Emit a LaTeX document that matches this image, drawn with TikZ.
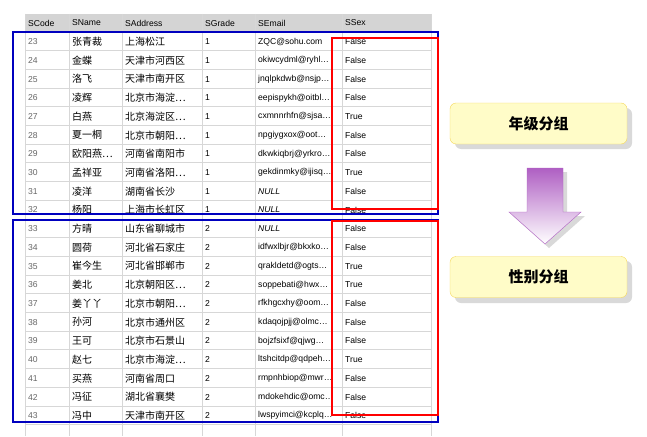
\documentclass[tikz,border=0pt]{standalone}
\usepackage{fontspec}
\setmainfont{Liberation Sans}
\newfontfamily\cjk{Noto Sans CJK SC}
\usetikzlibrary{positioning}
\definecolor{gridgray}{RGB}{215,215,215}
\definecolor{headgray}{RGB}{212,212,212}
\definecolor{boxyellow}{RGB}{255,252,200}
\definecolor{boxedge}{RGB}{245,215,90}
\definecolor{arrowpurple}{RGB}{175,95,195}
\tikzset{
  cell/.style={anchor=west,inner sep=0pt,font=\fontsize{8.6}{9}\selectfont},
  code/.style={cell,text=black!60},
  cname/.style={cell,font=\fontsize{10}{11}\selectfont\cjk},
  grpbox/.style={draw=boxedge,fill=boxyellow,rounded corners=6pt,minimum width=177pt,minimum height=41pt,font=\fontsize{15}{16}\selectfont\cjk\bfseries}
}
\begin{document}
\begin{tikzpicture}[x=1pt,y=-1pt]
\useasboundingbox (0,0) rectangle (647,436);
% header
\fill[headgray] (25,14) rectangle (431,32);
\foreach \x in {25,69,122,202,255,342,431}
  \draw[gridgray,line width=0.8pt] (\x,14) -- (\x,436);
\foreach \i in {0,...,21}
  \draw[gridgray,line width=1pt] (25,32+18.7*\i) -- (431,32+18.7*\i);
\foreach \x/\t in {28/SCode,72/SName,125/SAddress,205/SGrade,258/SEmail,345/SSex}
  \node[cell] (h\t) at (\x,23) {\t};
% rows
\foreach \n/\nm/\ad/\g/\em/\s [count=\k from 0] in {
  23/张青裁/上海松江/1/ZQC@sohu.com/False,
  24/金蝶/天津市河西区/1/okiwcydml@ryhl…/False,
  25/洛飞/天津市南开区/1/jnqlpkdwb@nsjp…/False,
  26/凌辉/北京市海淀…/1/eepispykh@oitbl…/False,
  27/白燕/北京海淀区…/1/cxmnnrhfn@sjsa…/True,
  28/夏一桐/北京市朝阳…/1/npgiygxox@oot…/False,
  29/欧阳燕…/河南省南阳市/1/dkwkiqbrj@yrkro…/False,
  30/孟祥亚/河南省洛阳…/1/gekdinmky@ijisq…/True,
  31/凌洋/湖南省长沙/1/\textit{NULL}/False,
  32/杨阳/上海市长虹区/1/\textit{NULL}/False,
  33/方晴/山东省聊城市/2/\textit{NULL}/False,
  34/圆荷/河北省石家庄/2/idfwxlbjr@bkxko…/False,
  35/崔今生/河北省邯郸市/2/qrakldetd@ogts…/True,
  36/姜北/北京朝阳区…/2/soppebati@hwx…/True,
  37/姜丫丫/北京市朝阳…/2/rfkhgcxhy@oom…/False,
  38/孙河/北京市通州区/2/kdaqojpjj@olmc…/False,
  39/王可/北京市石景山/2/bojzfsixf@qjwg…/False,
  40/赵七/北京市海淀…/2/ltshcitdp@qdpeh…/True,
  41/买燕/河南省周口/2/rmpnhbiop@mwr…/False,
  42/冯征/湖北省襄樊/2/mdokehdic@omc…/False,
  43/冯中/天津市南开区/2/lwspyimci@kcplq…/False}
{
  \node[code] (c\n) at (28,41.7+18.7*\k) {\n};
  \node[cname] (n\n) at (72,41.7+18.7*\k) {\nm};
  \node[cname] (a\n) at (125,41.7+18.7*\k) {\ad};
  \node[cell] (g\n) at (205,41.7+18.7*\k) {\g};
  \node[cell] (e\n) at (258,41.7+18.7*\k) {\em};
  \node[cell] (s\n) at (345,41.7+18.7*\k) {\s};
}
% group frames
\draw[blue!75!black,line width=1.3pt] (13,32) rectangle (438,214);
\draw[blue!75!black,line width=1.3pt] (13,220) rectangle (438,422);
\draw[red,line width=1.3pt] (332,38) rectangle (438,209);
\draw[red,line width=1.3pt] (332,221) rectangle (438,415);
% right side
\fill[black!15,rounded corners=6pt] (455,108) rectangle (632,149);
\fill[black!15,rounded corners=6pt] (455,261) rectangle (632,303);
\node[grpbox] (grade) at (538.5,123.5) {年级分组};
\node[grpbox] (sex) at (538.5,277) {性别分组};
\fill[black!15] (531,172) -- (567,172) -- (567,216) -- (585,216) -- (549,248) -- (513,216) -- (531,216) -- cycle;
\draw[arrowpurple,top color=arrowpurple,bottom color=white]
  (527,168) -- (563,168) -- (563,212) -- (581,212) -- (545,244) -- (509,212) -- (527,212) -- cycle;
\end{tikzpicture}
\end{document}
